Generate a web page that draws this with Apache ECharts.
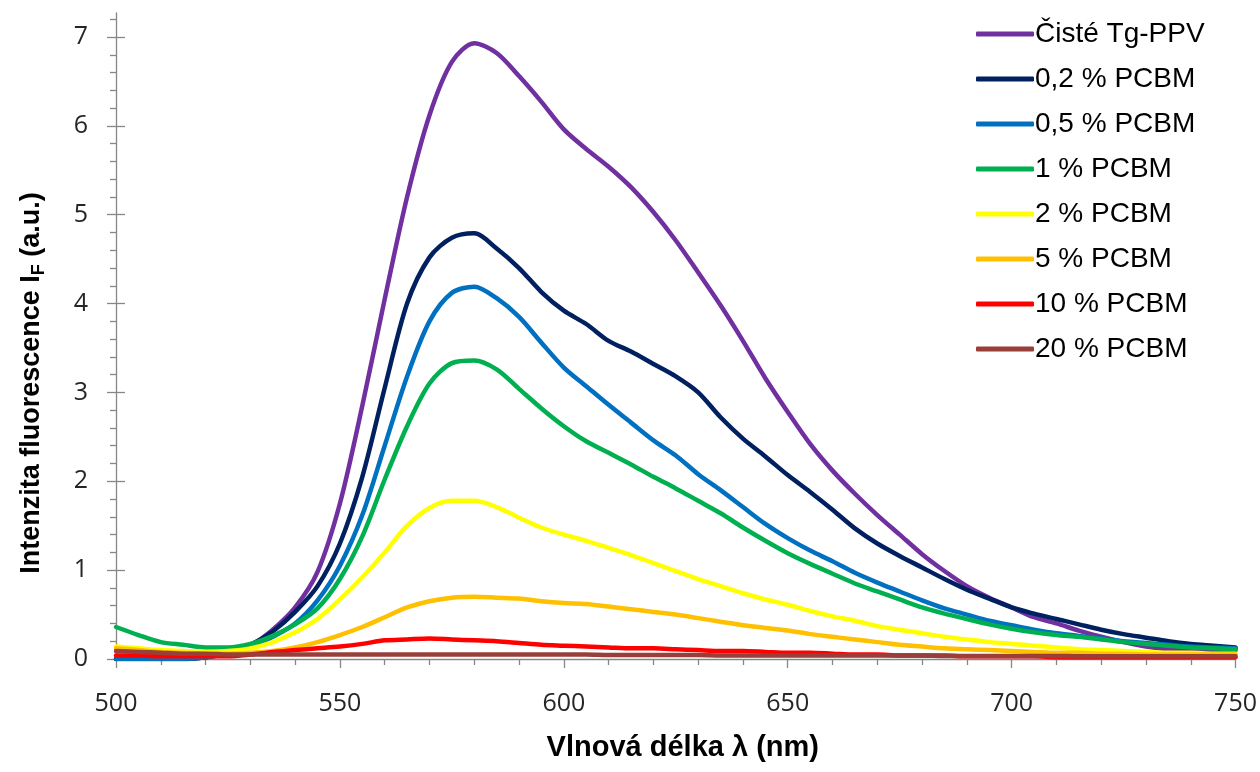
<!DOCTYPE html>
<html>
<head>
<meta charset="utf-8">
<script src="https://cdn.jsdelivr.net/npm/echarts@6/dist/echarts.min.js"></script>
<style>
html,body{margin:0;padding:0;background:#fff;}
#chart{width:1260px;height:772px;}
</style>
</head>
<body>
<div id="chart"></div>
<script>
// wavelengths (nm)
const wavelengths = [500,505,510,515,520,525,530,535,540,545,550,555,560,565,570,575,580,585,590,595,600,605,610,615,620,625,630,635,640,645,650,655,660,665,670,675,680,685,690,695,700,705,710,715,720,725,730,735,740,745,750];

const seriesNames = ['Čisté Tg-PPV','0,2 % PCBM','0,5 % PCBM','1 % PCBM','2 % PCBM','5 % PCBM','10 % PCBM','20 % PCBM'];

const pure = [0.0,0.0,0.0,0.0,0.02,0.06,0.15,0.33,0.58,0.98,1.75,2.85,4.05,5.2,6.12,6.72,6.93,6.82,6.56,6.27,5.96,5.74,5.54,5.31,5.03,4.71,4.35,3.98,3.58,3.16,2.78,2.42,2.12,1.86,1.62,1.40,1.18,0.99,0.82,0.69,0.58,0.47,0.40,0.32,0.25,0.19,0.14,0.11,0.10,0.10,0.10];
const pcbm02 = [0.0,0.0,0.0,0.0,0.02,0.07,0.16,0.31,0.53,0.82,1.30,2.05,3.05,4.0,4.52,4.74,4.79,4.62,4.40,4.13,3.92,3.77,3.58,3.46,3.32,3.18,3.0,2.72,2.48,2.28,2.07,1.88,1.68,1.47,1.30,1.16,1.03,0.90,0.78,0.68,0.58,0.51,0.45,0.39,0.33,0.28,0.24,0.20,0.17,0.15,0.13];
const pcbm05 = [0.0,0.0,0.0,0.0,0.02,0.06,0.13,0.25,0.40,0.66,1.05,1.62,2.40,3.18,3.80,4.12,4.19,4.06,3.85,3.56,3.28,3.07,2.86,2.66,2.46,2.29,2.08,1.90,1.71,1.52,1.36,1.22,1.10,0.97,0.86,0.76,0.66,0.57,0.50,0.43,0.38,0.33,0.29,0.26,0.23,0.20,0.18,0.16,0.14,0.13,0.12];
const pcbm1 = [0.36,0.27,0.19,0.16,0.13,0.13,0.17,0.26,0.39,0.57,0.90,1.38,2.02,2.62,3.10,3.33,3.36,3.26,3.04,2.82,2.62,2.45,2.32,2.19,2.05,1.92,1.78,1.64,1.48,1.33,1.19,1.07,0.96,0.85,0.76,0.67,0.58,0.51,0.45,0.39,0.34,0.30,0.27,0.25,0.22,0.19,0.17,0.15,0.13,0.12,0.11];
const pcbm2 = [0.14,0.12,0.10,0.09,0.08,0.09,0.12,0.19,0.30,0.45,0.67,0.92,1.20,1.50,1.70,1.78,1.78,1.71,1.59,1.48,1.40,1.33,1.25,1.17,1.08,0.99,0.90,0.82,0.74,0.67,0.61,0.54,0.48,0.43,0.37,0.33,0.29,0.25,0.22,0.19,0.17,0.15,0.13,0.11,0.10,0.09,0.08,0.07,0.07,0.06,0.06];
const pcbm5 = [0.12,0.10,0.08,0.07,0.06,0.06,0.07,0.09,0.13,0.19,0.27,0.36,0.47,0.58,0.65,0.69,0.70,0.69,0.68,0.65,0.63,0.62,0.59,0.56,0.53,0.50,0.46,0.42,0.38,0.35,0.32,0.28,0.25,0.22,0.19,0.16,0.14,0.12,0.11,0.10,0.09,0.08,0.07,0.07,0.06,0.06,0.05,0.05,0.05,0.05,0.05];
const pcbm10 = [0.04,0.04,0.03,0.03,0.03,0.03,0.05,0.08,0.10,0.12,0.14,0.17,0.21,0.22,0.23,0.22,0.21,0.20,0.18,0.16,0.15,0.14,0.13,0.12,0.12,0.11,0.10,0.09,0.09,0.08,0.07,0.07,0.06,0.05,0.05,0.04,0.04,0.04,0.03,0.03,0.03,0.03,0.02,0.02,0.02,0.02,0.02,0.02,0.02,0.02,0.02];
const pcbm20 = [0.09,0.08,0.07,0.06,0.06,0.05,0.05,0.05,0.05,0.05,0.05,0.05,0.05,0.05,0.05,0.05,0.05,0.05,0.05,0.05,0.05,0.05,0.045,0.045,0.045,0.045,0.045,0.04,0.04,0.04,0.04,0.04,0.04,0.04,0.04,0.04,0.04,0.035,0.035,0.035,0.035,0.035,0.035,0.03,0.03,0.03,0.03,0.03,0.03,0.03,0.03];

const yMajorTicks = [0,1,2,3,4,5,6,7];
const yMinorTicks = [0.2,0.4,0.6,0.8,1.2,1.4,1.6,1.8,2.2,2.4,2.6,2.8,3.2,3.4,3.6,3.8,4.2,4.4,4.6,4.8,5.2,5.4,5.6,5.8,6.2,6.4,6.6,6.8,7.2];

const colors = ['#7030A0','#002060','#0070C0','#00B050','#FFFF00','#FFC000','#FF0000','#983F3A'];
const allData = [pure,pcbm02,pcbm05,pcbm1,pcbm2,pcbm5,pcbm10,pcbm20];

const Y_MAX = 7.27;
const axisGray = '#868686';
const labelFont = '"Open Sans", "Noto Sans", sans-serif';
const textFont = '"Liberation Sans", Arial, sans-serif';

const chart = echarts.init(document.getElementById('chart'), null, {renderer:'canvas'});

const series = allData.map((arr, i) => ({
  name: seriesNames[i],
  type: 'line',
  yAxisIndex: 0,
  data: wavelengths.map((w, k) => [w, arr[k]]),
  showSymbol: false,
  symbol: 'none',
  smooth: 0.3,
  color: colors[i],
  lineStyle: { width: 4.5, color: colors[i], cap: 'round', join: 'round' },
  emphasis: { disabled: true }
}));

const baseY = {
  type: 'value', min: 0, max: Y_MAX, position: 'left', offset: 0,
  splitLine: { show: false }
};

chart.setOption({
  animation: false,
  backgroundColor: '#ffffff',
  grid: { left: 116, right: 24, top: 13, bottom: 113, containLabel: false },
  legend: {
    orient: 'vertical',
    left: 971, top: 14,
    itemWidth: 58, itemHeight: 5,
    itemGap: 15,
    icon: 'roundRect',
    data: seriesNames,
    textStyle: { fontFamily: textFont, fontSize: 28, color: '#000', lineHeight: 30, padding: [0,0,0,-4] }
  },
  xAxis: {
    type: 'value', min: 500, max: 750, interval: 50,
    axisLine: { show: true, lineStyle: { color: axisGray, width: 1.3 } },
    axisTick: { show: true, length: 9, lineStyle: { color: axisGray, width: 1.3 } },
    minorTick: { show: true, splitNumber: 5, length: 6, lineStyle: { color: axisGray, width: 1.3 } },
    splitLine: { show: false },
    axisLabel: { fontFamily: labelFont, fontSize: 25, color: '#262626', margin: 32 },
    name: 'Vlnová délka λ (nm)',
    nameLocation: 'middle',
    nameGap: 74,
    nameTextStyle: { fontFamily: textFont, fontSize: 29, fontWeight: 'bold', color: '#000', padding: [0,0,0,14] }
  },
  yAxis: [
    Object.assign({}, baseY, {
      axisLine: { show: true, lineStyle: { color: axisGray, width: 1.3 } },
      axisTick: { show: true, inside: false, length: 9, customValues: yMajorTicks, lineStyle: { color: axisGray, width: 1.3 } },
      axisLabel: { show: true, customValues: yMajorTicks, fontFamily: labelFont, fontSize: 25, color: '#262626', margin: 28 },
      name: 'Intenzita fluorescence I{sub|F} (a.u.)',
      nameLocation: 'middle',
      nameGap: 68,
      nameRotate: 90,
      nameTextStyle: {
        fontFamily: textFont, fontSize: 27, fontWeight: 'bold', color: '#000',
        padding: [0, 94, 0, 0],
        rich: {
          sub: { fontFamily: textFont, fontSize: 18, fontWeight: 'bold', color: '#000', verticalAlign: 'bottom', padding: [14,0,0,0] }
        }
      }
    }),
    Object.assign({}, baseY, {
      axisLine: { show: false },
      axisTick: { show: true, inside: true, length: 9, customValues: yMajorTicks, lineStyle: { color: axisGray, width: 1.3 } },
      axisLabel: { show: false }
    }),
    Object.assign({}, baseY, {
      axisLine: { show: false },
      axisTick: { show: true, inside: false, length: 6, customValues: yMinorTicks, lineStyle: { color: axisGray, width: 1.3 } },
      axisLabel: { show: false }
    })
  ],
  series: series
});
</script>
</body>
</html>
